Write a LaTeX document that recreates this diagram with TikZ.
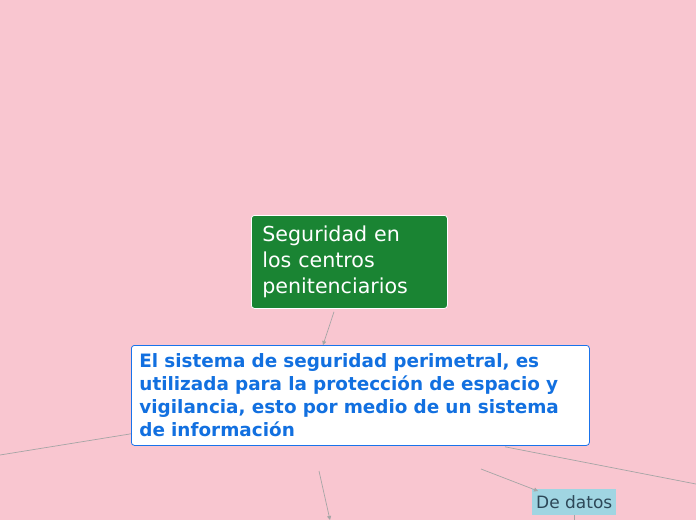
\documentclass[tikz,border=0pt]{standalone}
\usepackage{fontspec}
\setmainfont{DejaVu Sans}
\usetikzlibrary{arrows.meta,calc}
\definecolor{bgpink}{RGB}{249,198,208}
\definecolor{nodegreen}{RGB}{26,132,51}
\definecolor{txtblue}{RGB}{18,112,224}
\definecolor{boxblue}{RGB}{25,115,235}
\definecolor{lightcyan}{RGB}{160,213,226}
\definecolor{darktxt}{RGB}{45,72,88}
\definecolor{conngray}{RGB}{165,165,165}
\tikzset{
  rootbox/.style={draw=white, line width=0.8pt, fill=nodegreen, rounded corners=3pt,
    text=white, font=\fontsize{20.6}{25.8}\selectfont, align=left, text width=174pt,
    inner xsep=11pt, inner ysep=0pt, minimum height=93pt, anchor=north west},
  mainbox/.style={draw=boxblue, line width=0.8pt, fill=white, rounded corners=3pt,
    text=txtblue, font=\fontsize{18.4}{23}\bfseries\selectfont, align=left, text width=442pt,
    inner xsep=8pt, inner ysep=0pt, minimum height=100pt, anchor=north west},
  subbox/.style={fill=lightcyan, text=darktxt, font=\fontsize{17}{20}\selectfont,
    inner xsep=4pt, inner ysep=0pt, minimum width=83pt, minimum height=26pt, anchor=north west},
  conn/.style={draw=conngray, line width=0.7pt},
  connarrow/.style={conn, -{Triangle[length=4pt,width=4pt]}}
}
\begin{document}
\begin{tikzpicture}[x=1pt,y=-1pt]
\fill[bgpink] (0,0) rectangle (696,520);
\useasboundingbox (0,0) rectangle (696,520);

\node[rootbox] (root) at (251,215) {\raisebox{-2pt}{\parbox{174pt}{Seguridad en\\los centros\\penitenciarios}}};
\node[mainbox] (main) at (131,345) {El sistema de seguridad perimetral, es\\utilizada para la protección de espacio y\\vigilancia, esto por medio de un sistema\\de información};
\node[subbox] (datos) at (532,489) {De datos};

\coordinate (leftend) at (0,455);
\coordinate (rightend) at (696,484);
\coordinate (bottomend) at (330,520);
\coordinate (datosend) at (574,520);
\coordinate (midstart) at (319,471);
\coordinate (datosstart) at (481,469);

\draw[connarrow] ($(root.south west)+(83,3)$) -- ($(main.north west)+(192,0)$);
\draw[conn] ($(main.south west)+(0,-12)$) -- (leftend);
\draw[conn] ($(main.south west)+(374,1)$) -- (rightend);
\draw[connarrow] (midstart) -- (bottomend);
\draw[connarrow] (datosstart) -- ($(datos.north west)+(6,2)$);
\draw[conn] ($(datos.south west)+(42,0)$) -- (datosend);
\end{tikzpicture}
\end{document}
